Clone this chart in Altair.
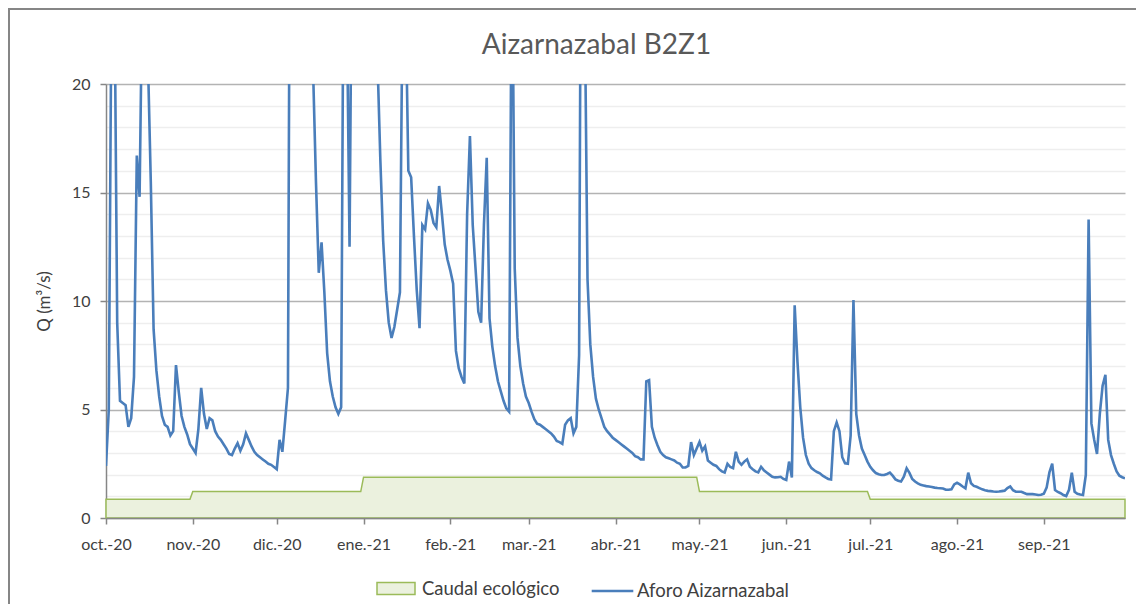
import altair as alt
import pandas as pd

titulo = "Aizarnazabal B2Z1"
eje_y = "Q (m³/s)"
meses = ["oct.-20", "nov.-20", "dic.-20", "ene.-21", "feb.-21", "mar.-21",
         "abr.-21", "may.-21", "jun.-21", "jul.-21", "ago.-21", "sep.-21"]
serie_eco = "Caudal ecológico"
serie_aforo = "Aforo Aizarnazabal"

# Aforo Aizarnazabal, daily discharge (m3/s), one list per month
oct_20 = [2.4, 5.0, 25, 25, 9.0, 5.4, 5.3, 5.2, 4.2, 4.6, 6.5, 16.7, 14.8, 25, 28, 21,
          15.5, 8.7, 6.8, 5.6, 4.7, 4.3, 4.2, 3.8, 4.0, 7.05, 5.8, 4.7, 4.2, 3.85, 3.4]
nov_20 = [3.2, 3.0, 4.1, 6.0, 4.8, 4.1, 4.6, 4.5, 4.0, 3.75, 3.6, 3.4, 3.2, 2.95, 2.9,
          3.2, 3.45, 3.1, 3.4, 3.9, 3.6, 3.3, 3.05, 2.9, 2.8, 2.7, 2.6, 2.5, 2.45, 2.35]
dic_20 = [2.25, 3.6, 3.05, 4.5, 6.0, 40, 40, 40, 40, 40, 40, 40, 30, 20.5, 15.5, 11.3,
          12.7, 10.4, 7.6, 6.3, 5.6, 5.1, 4.8, 5.1, 30, 24, 12.5, 30, 40, 40, 40]
ene_21 = [40, 40, 40, 40, 30, 21, 16.5, 12.8, 10.5, 9.0, 8.3, 8.8, 9.6, 10.4, 25, 24,
          16.0, 15.7, 13.0, 10.5, 8.75, 13.5, 13.3, 14.5, 14.2, 13.6, 13.4, 15.3, 14.0,
          12.6, 11.9]
feb_21 = [11.4, 10.8, 7.7, 6.9, 6.5, 6.2, 14.0, 17.6, 13.5, 11.5, 9.5, 9.0, 13.5, 16.6,
          9.2, 7.9, 7.0, 6.3, 5.85, 5.4, 5.05, 4.9, 28, 11.5, 8.3, 7.0, 6.2, 5.6]
mar_21 = [5.3, 4.9, 4.55, 4.35, 4.3, 4.2, 4.1, 4.0, 3.9, 3.75, 3.55, 3.5, 3.42, 4.3, 4.5,
          4.6, 3.9, 4.2, 7.5, 40, 24, 11.0, 8.0, 6.5, 5.5, 5.0, 4.6, 4.2, 4.0, 3.85, 3.7]
abr_21 = [3.6, 3.5, 3.4, 3.3, 3.2, 3.1, 3.0, 2.85, 2.8, 2.7, 2.7, 6.3, 6.35, 4.2, 3.7,
          3.35, 3.05, 2.9, 2.8, 2.75, 2.7, 2.65, 2.55, 2.5, 2.33, 2.33, 2.4, 3.5, 2.9, 3.2]
may_21 = [3.5, 3.1, 3.3, 2.65, 2.55, 2.45, 2.4, 2.25, 2.15, 2.1, 2.5, 2.35, 2.3, 3.05,
          2.6, 2.45, 2.6, 2.7, 2.36, 2.25, 2.15, 2.1, 2.36, 2.2, 2.1, 2.0, 1.9, 1.87, 1.88,
          1.9, 1.8]
jun_21 = [1.75, 2.6, 1.87, 9.8, 7.2, 5.1, 3.7, 2.9, 2.5, 2.3, 2.2, 2.12, 2.06, 1.95, 1.87,
          1.8, 1.78, 4.0, 4.4, 4.0, 2.8, 2.52, 2.5, 3.8, 10.05, 4.8, 3.8, 3.2, 2.9, 2.6]
jul_21 = [2.36, 2.2, 2.07, 2.02, 1.98, 1.98, 2.03, 2.09, 1.95, 1.78, 1.72, 1.68, 1.9,
          2.29, 2.08, 1.8, 1.68, 1.6, 1.53, 1.5, 1.47, 1.45, 1.43, 1.4, 1.38, 1.37, 1.36,
          1.3, 1.3, 1.32, 1.55]
ago_21 = [1.62, 1.55, 1.45, 1.37, 2.09, 1.6, 1.48, 1.44, 1.38, 1.32, 1.28, 1.25, 1.24,
          1.22, 1.21, 1.22, 1.24, 1.26, 1.38, 1.45, 1.28, 1.21, 1.21, 1.21, 1.15, 1.1,
          1.1, 1.1, 1.08, 1.06, 1.07]
sep_21 = [1.12, 1.4, 2.1, 2.5, 1.29, 1.2, 1.14, 1.06, 1.01, 1.3, 2.09, 1.21, 1.12, 1.08,
          1.06, 1.98, 13.76, 4.36, 3.6, 2.95, 4.8, 6.1, 6.6, 3.6, 2.9, 2.5, 2.15, 1.95,
          1.88, 1.83]

# Caudal ecológico per month (m3/s)
caudal_eco_mensual = [0.86, 1.22, 1.22, 1.88, 1.88, 1.88, 1.88, 1.22, 1.22, 0.86, 0.86, 0.86]

aforo_por_mes = [oct_20, nov_20, dic_20, ene_21, feb_21, mar_21,
                 abr_21, may_21, jun_21, jul_21, ago_21, sep_21]

fechas = pd.date_range("2020-10-01", "2021-09-30", freq="D")
q = [v for mes in aforo_por_mes for v in mes]
eco = [caudal_eco_mensual[i] for i, mes in enumerate(aforo_por_mes) for _ in mes]

df_aforo = pd.DataFrame({"fecha": fechas, "Q": q, "serie": serie_aforo})
df_eco = pd.DataFrame({"fecha": fechas, "Q": eco, "serie": serie_eco})

inicio_meses = pd.date_range("2020-10-01", periods=12, freq="MS")
valores_x = [alt.DateTime(year=int(d.year), month=int(d.month), date=1) for d in inicio_meses]
etiquetas_js = "[" + ",".join("'" + m + "'" for m in meses) + "]"
label_expr_x = etiquetas_js + "[(year(datum.value)-2020)*12 + month(datum.value) - 9]"

FONT = "Lato"
TXT = "#404040"

x_enc = alt.X(
    "fecha:T",
    title=None,
    scale=alt.Scale(domain=[alt.DateTime(year=2020, month=10, date=1),
                            alt.DateTime(year=2021, month=9, date=30)]),
    axis=alt.Axis(values=valores_x, labelExpr=label_expr_x, grid=False,
                  domainColor="#868686", domainWidth=1.5, tickColor="#868686",
                  tickSize=6, tickWidth=1.5, labelPadding=12, labelFont=FONT,
                  labelFontSize=16, labelColor=TXT, labelAlign="center",
                  labelOverlap=False, labelFlush=False, zindex=1),
)
y_enc = alt.Y(
    "Q:Q",
    title=eje_y,
    scale=alt.Scale(domain=[0, 20], nice=False, zero=True),
    axis=alt.Axis(
        values=list(range(0, 21)),
        labelExpr="datum.value % 5 === 0 ? datum.label : ''",
        gridColor={"condition": {"test": "datum.value % 5 === 0", "value": "#B3B3B3"},
                   "value": "#EEEEEE"},
        gridWidth=1.5,
        tickColor={"condition": {"test": "datum.value % 5 === 0", "value": "#868686"},
                   "value": "transparent"},
        tickSize=6, tickWidth=1.5,
        domainColor="#868686", domainWidth=1.5,
        labelPadding=10, labelFont=FONT, labelFontSize=16, labelColor=TXT,
        titleFont=FONT, titleFontSize=17, titleFontWeight="normal", titleColor=TXT,
        titleX=-62, titleY=217, titleBaseline="middle", titleAngle=270,
    ),
)

area = alt.Chart(df_eco).mark_area(
    stroke="#9BBB59", strokeWidth=1.5, opacity=1, interpolate="linear"
).encode(
    x=x_enc, y=y_enc,
    fill=alt.Fill(
        "serie:N", title=None,
        scale=alt.Scale(domain=[serie_eco], range=["#EBF1DE"]),
        legend=alt.Legend(orient="none", legendX=270, legendY=484.5, padding=0,
                          symbolType="M-1,-0.32H1V0.32H-1Z", symbolSize=1444,
                          symbolStrokeColor="#9BBB59", symbolStrokeWidth=1.5,
                          symbolOpacity=1, labelFont=FONT, labelFontSize=18.5,
                          labelColor=TXT, labelOffset=6),
    ),
)

linea = alt.Chart(df_aforo).mark_line(
    strokeWidth=2.6, clip=True, interpolate="linear"
).encode(
    x=x_enc, y=y_enc,
    stroke=alt.Stroke(
        "serie:N", title=None,
        scale=alt.Scale(domain=[serie_aforo], range=["#4A7EBB"]),
        legend=alt.Legend(orient="none", legendX=484, legendY=484.5, padding=0,
                          symbolType="stroke", symbolSize=1730,
                          symbolStrokeWidth=2.5, labelFont=FONT, labelFontSize=18.5,
                          labelColor=TXT, labelOffset=2),
    ),
)

marco = alt.Chart(pd.DataFrame({"k": [0]}))
borde_sup = marco.mark_rule(color="#868686", strokeWidth=2, clip=False).encode(
    x=alt.value(-98), x2=alt.value(1040), y=alt.value(-75))
borde_izq = marco.mark_rule(color="#868686", strokeWidth=2, clip=False).encode(
    x=alt.value(-97), y=alt.value(-76), y2=alt.value(520))

chart = alt.layer(area, linea, borde_sup, borde_izq).resolve_scale(
    fill="independent", stroke="independent"
).properties(
    width=1019, height=434,
    title=alt.TitleParams(titulo, font=FONT, fontSize=28, fontWeight="normal",
                          color="#595959", anchor="middle", frame="group", dx=-19,
                          baseline="alphabetic", offset=-75),
    autosize=alt.AutoSizeParams(type="none"),
    padding={"left": 98, "top": 76, "right": 11, "bottom": 86},
).configure(font=FONT).configure_view(strokeWidth=0)

chart.save("out.html", embed_options={"renderer": "svg", "actions": False})
